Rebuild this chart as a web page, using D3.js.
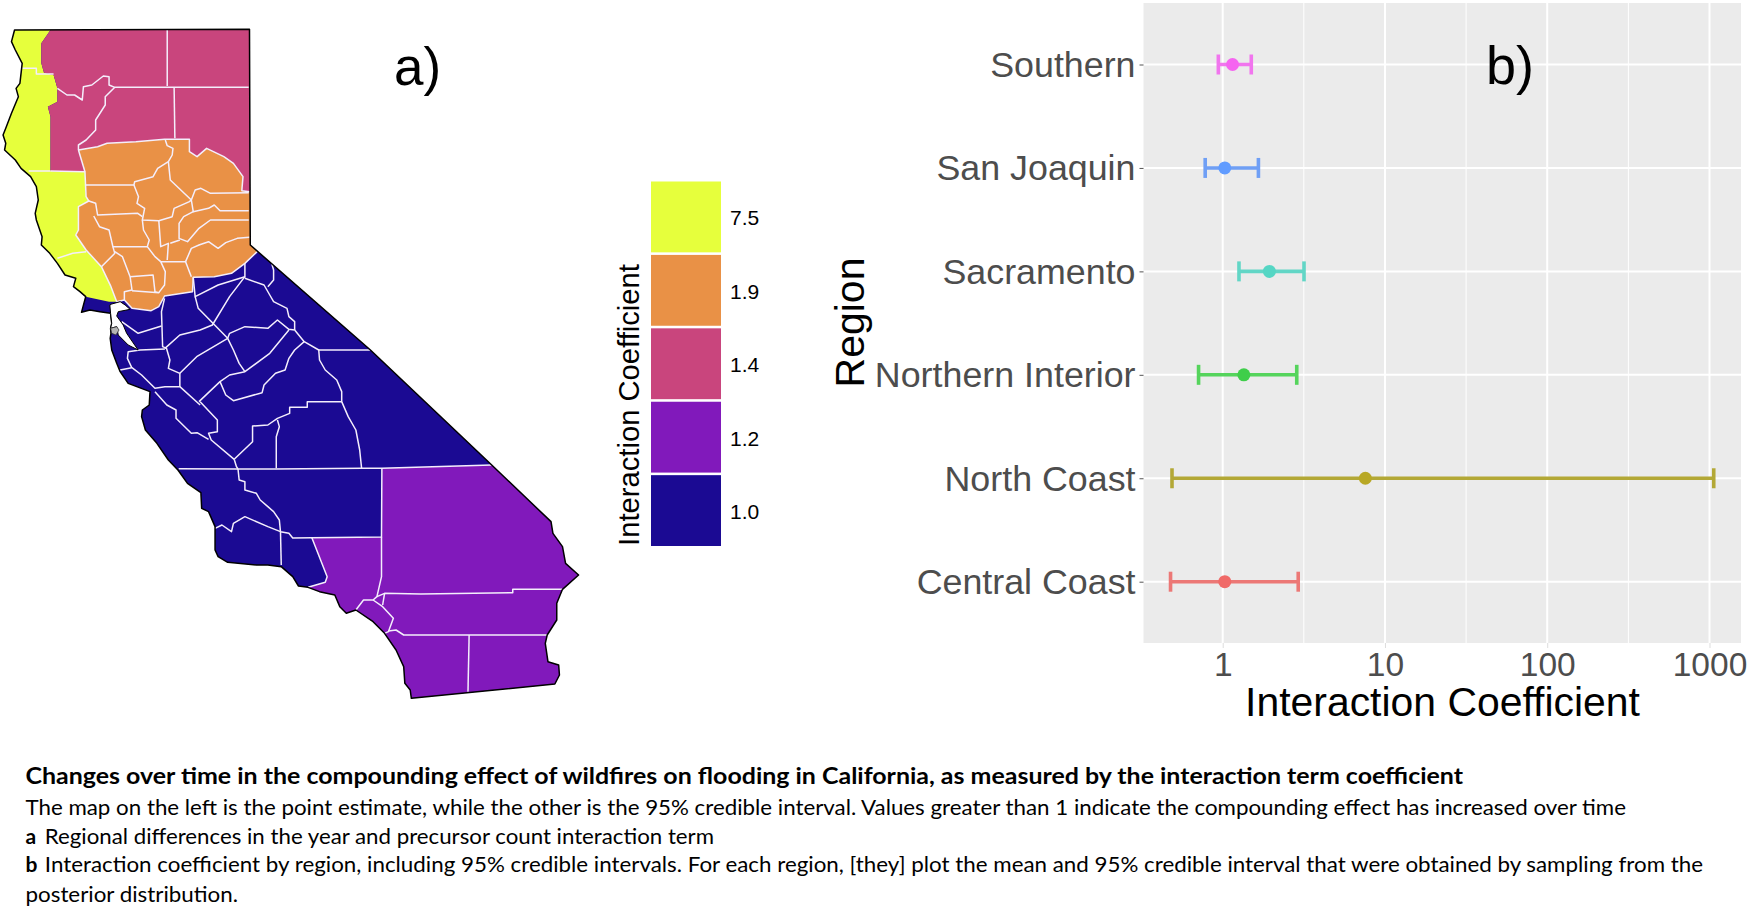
<!DOCTYPE html>
<html><head><meta charset="utf-8">
<script src="https://cdn.jsdelivr.net/npm/d3@7"></script>
<style>html,body{margin:0;background:#fff}svg{display:block}</style>
</head><body><svg id="c" width="1750" height="909"></svg>
<script>
// ---- data ----
const regionNames = ["Southern","San Joaquin","Sacramento","Northern Interior","North Coast","Central Coast"];
const means  = [1.15,1.03,1.94,1.35,7.57,1.03];
const lowers = [0.94,0.78,1.26,0.71,0.487,0.477];
const uppers = [1.5,1.66,3.17,2.86,1062,2.92];
const xTicks = [1,10,100,1000];
const xMinor = [Math.sqrt(10),Math.sqrt(1000),Math.sqrt(100000)];
const legendLabels = ["7.5","1.9","1.4","1.2","1.0"];
const legendColors = ["#e6ff3c","#e99146","#c9457d","#8119bb","#1b0a93"];
const lineColors = ["#f175ee","#6f9ff5","#62d6c6","#55d45c","#b3a836","#ec7876"];
const dotColors  = ["#f564f0","#619cff","#55d6c4","#3fce4a","#b8a825","#f06a68"];
const captionTitle = "Changes over time in the compounding effect of wildfires on flooding in California, as measured by the interaction term coefficient";
const captionLines = [
 ["", "The map on the left is the point estimate, while the other is the 95% credible interval. Values greater than 1 indicate the compounding effect has increased over time"],
 ["a", "Regional differences in the year and precursor count interaction term"],
 ["b", "Interaction coefficient by region, including 95% credible intervals. For each region, [they] plot the mean and 95% credible interval that were obtained by sampling from the"],
 ["", "posterior distribution."]
];

// map geometry, traced in map units
const stateOutline = [[38,90],[652,88],[654,735],[968,1050],[1285,1395],[1440,1565],[1445,1600],[1470,1640],[1478,1690],[1512,1725],[1470,1768],[1455,1810],[1455,1860],[1430,1905],[1425,1930],[1432,1985],[1460,1995],[1462,2025],[1450,2052],[1075,2095],[1072,2070],[1058,2050],[1055,2000],[1035,1950],[1005,1900],[975,1865],[930,1830],[905,1840],[888,1820],[875,1785],[835,1775],[805,1762],[780,1758],[765,1730],[735,1700],[700,1695],[670,1695],[595,1687],[570,1670],[562,1650],[562,1580],[545,1535],[527,1525],[525,1478],[490,1450],[465,1410],[440,1380],[410,1330],[380,1290],[370,1250],[372,1230],[390,1215],[392,1175],[335,1150],[314,1115],[305,1090],[292,1050],[288,1015],[290,1000],[289,985],[292,970],[289,940],[261,935],[235,930],[213,937],[224,890],[209,875],[192,860],[198,835],[170,825],[150,790],[130,760],[108,735],[110,710],[95,660],[92,640],[100,600],[95,560],[80,530],[55,505],[40,480],[12,450],[15,430],[8,405],[15,385],[30,340],[48,290],[42,265],[52,250],[58,190],[40,150],[30,125]];
const bay = [[292,912],[314,905],[327,915],[340,928],[309,935],[305,948],[322,975],[331,1000],[361,1050],[335,1035],[309,1005],[305,980],[289,985],[292,970],[289,940],[287,915]];
const bayIsland = [[289,985],[305,980],[311,990],[303,1005],[292,1000]];
const blueArea = [[0,0],[1600,0],[1600,2200],[0,2200]];
const northCoast = [[0,0],[132,0],[132,90],[108,130],[108,190],[115,218],[140,225],[150,265],[150,305],[125,320],[132,350],[132,513],[222,515],[225,590],[232,603],[205,620],[205,690],[198,705],[225,750],[265,800],[290,860],[305,905],[285,905],[224,890],[0,880]];
const northInterior = [[132,60],[680,60],[680,575],[632,572],[635,530],[610,490],[585,470],[540,445],[515,470],[495,455],[495,418],[430,418],[355,425],[280,430],[255,440],[205,450],[222,515],[132,513],[132,350],[125,320],[150,305],[150,265],[140,225],[115,218],[108,190],[108,130],[132,90]];
const sacramento = [[205,450],[255,440],[280,430],[355,425],[430,418],[495,418],[495,455],[515,470],[540,445],[585,470],[610,490],[635,530],[632,572],[680,575],[680,745],[672,755],[640,790],[605,820],[560,830],[505,832],[503,875],[430,888],[415,920],[395,932],[345,925],[325,900],[305,905],[290,860],[265,800],[225,750],[198,705],[205,690],[205,620],[232,603],[225,590],[222,515]];
const southern = [[998,1405],[1285,1395],[1700,1395],[1700,2200],[1000,2200],[760,1790],[805,1762],[850,1747],[855,1730],[815,1613],[997,1611]];
const countyBorders = [
 [[437,90],[437,258]],[[455,262],[457,415]],
 [[150,265],[175,285],[195,285],[215,300],[218,260],[240,255],[270,228],[285,230],[285,255],[300,262],[650,262]],
 [[300,262],[275,290],[275,315],[250,360],[250,390],[225,420],[205,435],[205,450]],
 [[58,205],[95,205],[95,222],[140,222]],[[75,513],[132,513]],[[150,775],[190,760],[225,755]],
 [[205,450],[255,440],[280,430],[355,425],[430,418],[495,418],[495,455],[515,470],[540,445],[585,470],[610,490],[635,530],[632,572],[652,575]],
 [[222,515],[205,450]],[[132,513],[222,515],[225,590],[232,603],[205,620],[205,690],[198,705],[225,750],[265,800],[290,860],[305,905]],
 [[432,420],[437,437],[452,445],[450,465],[440,485],[412,505],[400,530],[352,545],[350,555],[222,555]],
 [[440,485],[445,540],[500,600]],[[500,600],[510,570],[525,565],[550,580],[650,578]],
 [[350,555],[362,590],[358,610],[378,625],[372,660],[415,662],[450,650],[455,625],[495,605],[500,600]],
 [[500,600],[505,635],[545,625],[560,615],[575,632],[650,632]],
 [[505,635],[480,650],[468,670],[468,715],[490,725],[520,685],[550,660],[650,660]],
 [[415,662],[420,740],[440,730],[437,780]],[[470,720],[445,730]],
 [[372,660],[375,690],[390,720],[385,740],[405,770],[420,785]],
 [[652,712],[620,715],[590,728],[570,745],[545,725],[520,735],[500,745],[485,785],[420,785],[432,815],[430,855],[415,878]],
 [[485,785],[500,830]],[[232,603],[250,610],[255,645],[360,640],[372,650]],
 [[245,648],[260,680],[285,690],[295,740],[385,740]],[[295,740],[300,760],[265,800]],
 [[300,755],[320,770],[340,830],[345,870],[325,875],[325,900]],
 [[340,830],[400,825],[405,875],[415,878],[345,872]],
 [[672,755],[640,790],[605,820],[560,830],[505,832],[503,875],[430,888],[415,920],[395,932],[345,925],[325,900],[305,905]],
 [[430,895],[422,935],[425,1040],[435,1045],[444,1080],[440,1105],[470,1120],[470,1160]],
 [[505,832],[510,890],[570,855],[640,830],[640,790]],
 [[640,835],[690,855],[705,885],[715,905],[750,925],[755,950],[770,965],[770,990]],
 [[700,860],[715,840],[715,810],[710,790]],
 [[510,890],[518,925],[595,1015],[610,1050],[625,1090],[640,1115]],
 [[640,830],[600,890],[555,975],[523,990],[470,1005],[431,1045]],
 [[318,965],[361,1000],[422,978]],[[431,1047],[366,1050],[335,1055],[333,1075],[344,1102],[370,1125],[405,1165],[431,1160],[470,1160],[523,1215]],
 [[595,1015],[514,1070],[470,1120]],
 [[770,990],[755,988],[725,960],[700,985],[640,980],[600,1000],[595,1015]],
 [[755,990],[705,1060],[640,1115],[600,1125],[575,1145],[520,1205]],
 [[770,990],[795,1025],[770,1050],[755,1075],[745,1110],[720,1120],[690,1155],[685,1178],[610,1202],[590,1185],[575,1145]],
 [[795,1025],[833,1050],[835,1080],[850,1110],[880,1140],[893,1175],[893,1205],[910,1250],[930,1290],[940,1350],[945,1405]],
 [[833,1050],[968,1050]],
 [[467,1406],[622,1407],[720,1407],[945,1405],[998,1405],[1285,1395]],
 [[998,1405],[997,1611],[815,1613],[765,1614],[755,1600],[733,1595],[730,1560],[715,1535],[700,1520],[680,1500],[670,1480],[640,1470],[640,1445],[625,1440],[622,1407]],
 [[733,1595],[735,1695]],[[733,1595],[700,1580],[640,1550],[610,1570],[605,1595],[580,1575],[562,1585]],
 [[612,1378],[660,1325],[660,1278],[700,1275],[725,1255],[757,1240],[757,1222],[803,1222],[803,1205],[893,1205]],
 [[725,1260],[730,1280],[722,1310],[722,1405]],
 [[612,1378],[618,1400],[622,1407]],
 [[523,1205],[568,1260],[568,1295],[545,1300],[552,1320],[612,1378]],
 [[405,1175],[436,1215],[460,1230],[460,1255],[500,1300],[515,1298],[545,1318]],
 [[314,1110],[344,1103]],
 [[815,1613],[855,1730],[850,1747],[805,1762]],
 [[997,1611],[997,1730],[985,1790],[975,1800],[950,1800],[930,1830]],
 [[975,1800],[1000,1820],[1028,1855],[1015,1895],[1005,1900]],
 [[985,1790],[1005,1780],[1100,1782],[1340,1778],[1340,1768],[1470,1768]],
 [[1005,1780],[1000,1815]],
 [[1015,1893],[1035,1890],[1055,1905],[1430,1905]],
 [[1226,1905],[1223,2075]]
];

// ---- map ----
const svg = d3.select("#c");
const mapX = d3.scaleLinear().domain([0,1568]).range([0,600]);
const mapY = d3.scaleLinear().domain([0,2130]).range([0,710]);
const mapLine = d3.line().x(d=>mapX(d[0])).y(d=>mapY(d[1]));
const closed = d3.line().x(d=>mapX(d[0])).y(d=>mapY(d[1])).curve(d3.curveLinearClosed);
const fillColor = d3.scaleOrdinal().domain(legendLabels).range(legendColors);

svg.append("clipPath").attr("id","st").append("path").attr("d",closed(stateOutline));
const g = svg.append("g").attr("clip-path","url(#st)");
[[blueArea,"1.0"],[northCoast,"7.5"],[northInterior,"1.4"],[sacramento,"1.9"],[southern,"1.2"]].forEach(([p,l])=>{
  g.append("path").attr("d",closed(p)).attr("fill",fillColor(l));
});
g.selectAll("path.b").data(countyBorders).join("path").attr("class","b")
 .attr("d",mapLine).attr("fill","none").attr("stroke","#f4eefc").attr("stroke-width",1.5).attr("stroke-linejoin","round");
svg.append("path").attr("d",closed(stateOutline)).attr("fill","none").attr("stroke","#000").attr("stroke-width",1.5).attr("stroke-linejoin","round");
svg.append("path").attr("d",closed(bay)).attr("fill","#fff").attr("stroke","#000").attr("stroke-width",1);
svg.append("path").attr("d",closed(bayIsland)).attr("fill","#b4b4b4").attr("stroke","#333").attr("stroke-width",0.8);

const sans = "'Liberation Sans',Arial,sans-serif";
svg.append("text").text("a)").attr("x",394).attr("y",85).attr("font-family",sans).attr("font-size",53).attr("fill","#000");

// ---- legend ----
const legY = d3.scaleBand().domain(legendLabels).range([181.5,546]).paddingInner(0.035);
svg.selectAll("rect.l").data(legendLabels).join("rect").attr("class","l")
  .attr("x",651).attr("width",70).attr("y",d=>legY(d)).attr("height",legY.bandwidth()).attr("fill",d=>fillColor(d));
svg.selectAll("text.l").data(legendLabels).join("text").attr("class","l").text(d=>d)
  .attr("x",730).attr("y",d=>legY(d)+legY.bandwidth()/2+8.5).attr("font-family",sans).attr("font-size",21).attr("fill","#000");
svg.append("text").text("Interaction Coefficient").attr("transform","translate(639,405) rotate(-90)")
  .attr("text-anchor","middle").attr("font-family",sans).attr("font-size",29.2).attr("fill","#000");

// ---- panel b ----
const px0=1143.5, px1=1741, py0=3, py1=643;
const x = d3.scaleLog().domain([1,1000]).range([1222.7,1709.5]);
const y = d3.scalePoint().domain(regionNames).range([64.5,581.7]);
svg.append("rect").attr("x",px0).attr("y",py0).attr("width",px1-px0).attr("height",py1-py0).attr("fill","#ebebeb");
const grid = svg.append("g");
grid.selectAll("line.mi").data(xMinor).join("line").attr("class","mi")
  .attr("x1",x).attr("x2",x).attr("y1",py0).attr("y2",py1).attr("stroke","#fff").attr("stroke-width",1);
grid.selectAll("line.ma").data(xTicks).join("line").attr("class","ma")
  .attr("x1",x).attr("x2",x).attr("y1",py0).attr("y2",py1).attr("stroke","#fff").attr("stroke-width",2);
grid.selectAll("line.h").data(regionNames).join("line").attr("class","h")
  .attr("x1",px0).attr("x2",px1).attr("y1",y).attr("y2",y).attr("stroke","#fff").attr("stroke-width",2);

const axB = svg.append("g").attr("transform",`translate(0,${py1})`)
  .call(d3.axisBottom(x).tickValues(xTicks).tickFormat(d3.format("d")).tickSize(5).tickPadding(6));
axB.select(".domain").remove();
axB.selectAll("line").attr("stroke","#ddd").attr("stroke-width",1);
axB.selectAll("text").attr("font-family",sans).attr("font-size",33.5).attr("fill","#4d4d4d").attr("dy",null).attr("y",33);
const axL = svg.append("g").attr("transform",`translate(${px0},0)`)
  .call(d3.axisLeft(y).tickSize(4).tickPadding(4));
axL.select(".domain").remove();
axL.selectAll("line").attr("stroke","#555").attr("stroke-width",1);
axL.selectAll("text").attr("font-family",sans).attr("font-size",35.8).attr("fill","#4d4d4d").attr("dy","0.33em");

const marks = svg.selectAll("g.m").data(regionNames).join("g").attr("class","m");
marks.append("line").attr("x1",(d,i)=>x(lowers[i])).attr("x2",(d,i)=>x(uppers[i])).attr("y1",d=>y(d)).attr("y2",d=>y(d))
  .attr("stroke",(d,i)=>lineColors[i]).attr("stroke-width",3.6);
marks.append("line").attr("x1",(d,i)=>x(lowers[i])).attr("x2",(d,i)=>x(lowers[i])).attr("y1",d=>y(d)-10).attr("y2",d=>y(d)+10)
  .attr("stroke",(d,i)=>lineColors[i]).attr("stroke-width",3.6);
marks.append("line").attr("x1",(d,i)=>x(uppers[i])).attr("x2",(d,i)=>x(uppers[i])).attr("y1",d=>y(d)-10).attr("y2",d=>y(d)+10)
  .attr("stroke",(d,i)=>lineColors[i]).attr("stroke-width",3.6);
marks.append("circle").attr("cx",(d,i)=>x(means[i])).attr("cy",d=>y(d)).attr("r",6.5).attr("fill",(d,i)=>dotColors[i]);

svg.append("text").text("b)").attr("x",1486).attr("y",84).attr("font-family",sans).attr("font-size",54).attr("fill","#000");
svg.append("text").text("Interaction Coefficient").attr("x",1442.5).attr("y",716).attr("text-anchor","middle")
  .attr("font-family",sans).attr("font-size",40.9).attr("fill","#000");
svg.append("text").text("Region").attr("transform","translate(864,322.5) rotate(-90)").attr("text-anchor","middle")
  .attr("font-family",sans).attr("font-size",41).attr("fill","#000");

// ---- caption ----
const cap = "Lato,'Open Sans',sans-serif";
function capText(t,xp,yp,w,bold){
  svg.append("text").text(t).attr("x",xp).attr("y",yp).attr("font-family",cap).attr("font-size",bold?22:21)
    .attr("font-weight",bold?700:400).attr("fill","#000")
    .attr("textLength",w).attr("lengthAdjust","spacingAndGlyphs");
}
capText(captionTitle,25.5,784,1437.5,true);
const capY=[815,843.5,872,901.5], capEnd=[1626,714,1703,238];
captionLines.forEach((l,i)=>{
  if(l[0]){ svg.append("text").text(l[0]).attr("x",25.5).attr("y",capY[i]).attr("font-family",cap).attr("font-size",21).attr("font-weight",700).attr("fill","#000"); }
  const xs = l[0]?44.8:25.5;
  capText(l[1],xs,capY[i],capEnd[i]-xs,false);
});
</script></body></html>
